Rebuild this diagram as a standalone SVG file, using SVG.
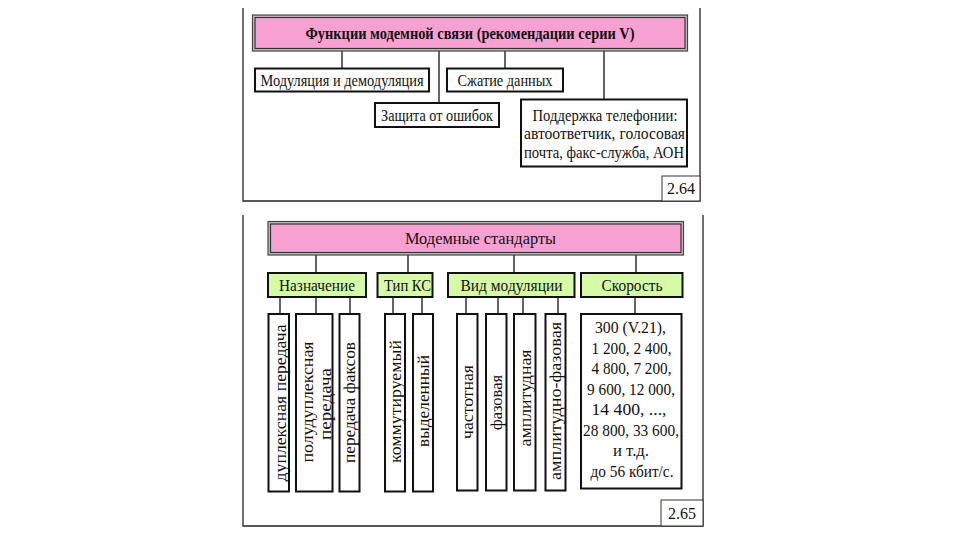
<svg xmlns="http://www.w3.org/2000/svg" width="960" height="540" viewBox="0 0 960 540">
<style>
text{font-family:"Liberation Serif","Times New Roman",serif;fill:#111;}
.frame{fill:none;stroke:#222;stroke-width:1.3;}
.box{fill:#fff;stroke:#111;stroke-width:2;}
.green{fill:#d6fba6;stroke:#111;stroke-width:2;}
.pinkOuter{fill:#c9c0c5;stroke:#444;stroke-width:1.2;}
.pinkInner{fill:#f7a0d2;stroke:#333;stroke-width:1.2;}
.lbl{fill:#fff;stroke:#333;stroke-width:1;}
.conn line{stroke:#111;stroke-width:1.3;}
.t{font-size:17px;text-anchor:middle;}
.s{font-size:16px;text-anchor:middle;}
.v{font-size:16px;text-anchor:middle;dominant-baseline:central;}
</style>
<rect width="960" height="540" fill="#fff"/>
<path class="frame" d="M243,8 V201 H700 V8"/>
<path class="frame" d="M243,215 V526 H703 V215"/>
<g class="conn">
<line x1="342" y1="51" x2="342" y2="69"/>
<line x1="439" y1="51" x2="439" y2="103"/>
<line x1="505" y1="51" x2="505" y2="69"/>
<line x1="604" y1="51" x2="604" y2="100"/>
<line x1="316" y1="255" x2="316" y2="273"/>
<line x1="408" y1="255" x2="408" y2="273"/>
<line x1="514" y1="255" x2="514" y2="273"/>
<line x1="636" y1="255" x2="636" y2="273"/>
<line x1="280" y1="297" x2="280" y2="314"/>
<line x1="316" y1="297" x2="316" y2="314"/>
<line x1="350" y1="297" x2="350" y2="314"/>
<line x1="393" y1="297" x2="393" y2="314"/>
<line x1="422" y1="297" x2="422" y2="314"/>
<line x1="466" y1="297" x2="466" y2="314"/>
<line x1="498" y1="297" x2="498" y2="314"/>
<line x1="523" y1="297" x2="523" y2="314"/>
<line x1="558" y1="297" x2="558" y2="314"/>
<line x1="635" y1="297" x2="635" y2="314"/>
</g>
<g id="title1">
<rect class="pinkOuter" x="252.5" y="15" width="435" height="36"/>
<rect class="pinkInner" x="255" y="17.5" width="430" height="31"/>
<text x="470" y="38.5" textLength="329" lengthAdjust="spacingAndGlyphs" style="font-size:16.5px;font-weight:bold;text-anchor:middle">Функции модемной связи (рекомендации серии V)</text>
</g>
<g id="mod"><rect class="box" x="255" y="68.5" width="174" height="23"/><text class="t" x="342" y="86" textLength="163" lengthAdjust="spacingAndGlyphs">Модуляция и демодуляция</text></g>
<g id="compress"><rect class="box" x="447" y="68.5" width="116" height="23"/><text class="t" x="505" y="86" textLength="95" lengthAdjust="spacingAndGlyphs">Сжатие данных</text></g>
<g id="errors"><rect class="box" x="375" y="103" width="124" height="24"/><text class="t" x="437" y="121" textLength="112" lengthAdjust="spacingAndGlyphs">Защита от ошибок</text></g>
<g id="phone"><rect class="box" x="521" y="99.5" width="166" height="67"/>
<text class="t" x="605" y="120.5" textLength="145" lengthAdjust="spacingAndGlyphs">Поддержка телефонии:</text>
<text class="t" x="604.5" y="139" textLength="161" lengthAdjust="spacingAndGlyphs">автоответчик, голосовая</text>
<text class="t" x="604" y="157.5" textLength="160" lengthAdjust="spacingAndGlyphs">почта, факс-служба, АОН</text></g>
<g id="n264"><rect class="lbl" x="662" y="176" width="38" height="25"/><text class="s" x="681" y="194" textLength="28" lengthAdjust="spacingAndGlyphs">2.64</text></g>

<g id="title2">
<rect class="pinkOuter" x="268" y="221.5" width="415.5" height="33.5"/>
<rect class="pinkInner" x="270.5" y="224" width="410.5" height="28.5"/>
<text class="t" x="480.5" y="244" textLength="151" lengthAdjust="spacingAndGlyphs">Модемные стандарты</text>
</g>
<g id="purpose"><rect class="green" x="268" y="273" width="98" height="24"/><text class="t" x="317" y="291" textLength="76" lengthAdjust="spacingAndGlyphs">Назначение</text></g>
<g id="chtype"><rect class="green" x="377.5" y="273" width="55" height="24"/><text class="t" x="407.5" y="291" textLength="47" lengthAdjust="spacingAndGlyphs">Тип КС</text></g>
<g id="modtype"><rect class="green" x="448" y="273" width="126.5" height="24"/><text class="t" x="511.5" y="291" textLength="102" lengthAdjust="spacingAndGlyphs">Вид модуляции</text></g>
<g id="speed"><rect class="green" x="581" y="273" width="101.5" height="24"/><text class="t" x="632" y="291" textLength="61" lengthAdjust="spacingAndGlyphs">Скорость</text></g>

<g id="duplex"><rect class="box" x="268.5" y="314" width="20.5" height="177.5"/><text class="v" transform="translate(280,403) rotate(-90)" textLength="157" lengthAdjust="spacingAndGlyphs">дуплексная передача</text></g>
<g id="halfduplex"><rect class="box" x="296" y="314" width="36.5" height="177.5"/><text class="v" transform="translate(307,402) rotate(-90)" textLength="121" lengthAdjust="spacingAndGlyphs">полудуплексная</text><text class="v" transform="translate(325.5,404) rotate(-90)" textLength="72" lengthAdjust="spacingAndGlyphs">передача</text></g>
<g id="fax"><rect class="box" x="339.5" y="314" width="20" height="177.5"/><text class="v" transform="translate(349.5,402.5) rotate(-90)" textLength="121" lengthAdjust="spacingAndGlyphs">передача факсов</text></g>
<g id="switched"><rect class="box" x="385" y="314" width="20" height="177.5"/><text class="v" transform="translate(395,401.5) rotate(-90)" textLength="123" lengthAdjust="spacingAndGlyphs">коммутируемый</text></g>
<g id="leased"><rect class="box" x="413" y="314" width="20" height="177.5"/><text class="v" transform="translate(423,401) rotate(-90)" textLength="92" lengthAdjust="spacingAndGlyphs">выделенный</text></g>
<g id="freq"><rect class="box" x="457" y="314" width="20.5" height="176.5"/><text class="v" transform="translate(467,402) rotate(-90)" textLength="74" lengthAdjust="spacingAndGlyphs">частотная</text></g>
<g id="phase"><rect class="box" x="486" y="314" width="20.5" height="176.5"/><text class="v" transform="translate(496,402.5) rotate(-90)" textLength="55" lengthAdjust="spacingAndGlyphs">фазовая</text></g>
<g id="ampl"><rect class="box" x="514" y="314" width="21.5" height="176.5"/><text class="v" transform="translate(525,398) rotate(-90)" textLength="97" lengthAdjust="spacingAndGlyphs">амплитудная</text></g>
<g id="amplphase"><rect class="box" x="545.5" y="314" width="20" height="176.5"/><text class="v" transform="translate(555.5,401) rotate(-90)" textLength="158" lengthAdjust="spacingAndGlyphs">амплитудно-фазовая</text></g>
<g id="speeds"><rect class="box" x="581" y="314" width="100.5" height="174.5"/>
<text class="s" x="630.5" y="333" textLength="71" lengthAdjust="spacingAndGlyphs">300 (V.21),</text>
<text class="s" x="631.5" y="353.5" textLength="80" lengthAdjust="spacingAndGlyphs">1 200, 2 400,</text>
<text class="s" x="631.5" y="374" textLength="80" lengthAdjust="spacingAndGlyphs">4 800, 7 200,</text>
<text class="s" x="631" y="394.5" textLength="88" lengthAdjust="spacingAndGlyphs">9 600, 12 000,</text>
<text class="s" x="629" y="415" textLength="75" lengthAdjust="spacingAndGlyphs">14 400, ...,</text>
<text class="s" x="631" y="435.5" textLength="96" lengthAdjust="spacingAndGlyphs">28 800, 33 600,</text>
<text class="s" x="631" y="456" textLength="36" lengthAdjust="spacingAndGlyphs">и т.д.</text>
<text class="s" x="632" y="476.5" textLength="83" lengthAdjust="spacingAndGlyphs">до 56 кбит/с.</text>
</g>
<g id="n265"><rect class="lbl" x="661" y="500" width="42" height="26"/><text class="s" x="682" y="519" textLength="28" lengthAdjust="spacingAndGlyphs">2.65</text></g>
</svg>
